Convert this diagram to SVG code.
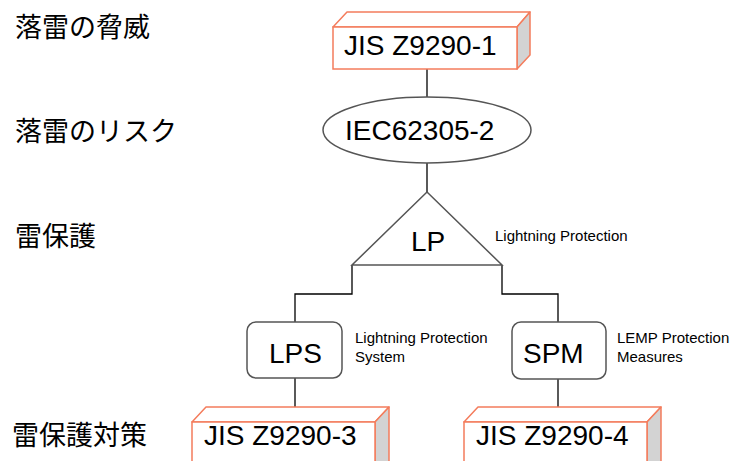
<svg xmlns="http://www.w3.org/2000/svg" width="737" height="461" viewBox="0 0 737 461">
<style>
  .cjk { font-family: "Noto Sans CJK JP", "Noto Sans", sans-serif; font-size: 27px; fill: #000; }
  .big { font-family: "Liberation Sans", Arial, sans-serif; font-size: 28px; fill: #000; }
  .small { font-family: "Liberation Sans", Arial, sans-serif; font-size: 15px; fill: #000; }
  .front { fill: #fff; stroke: #F47C5C; stroke-width: 1.5; }
  .top { fill: #fff; stroke: #F47C5C; stroke-width: 1.5; stroke-linejoin: round; }
  .side { fill: #D3D3D3; stroke: #F47C5C; stroke-width: 1.5; stroke-linejoin: round; }
  .shape { fill: #fff; stroke: #555; stroke-width: 1.5; }
  .conn { fill: none; stroke: #000; stroke-width: 1.3; }
</style>
<rect width="737" height="461" fill="#fff"/>

<g id="labels">
  <text class="cjk" x="15" y="37">落雷の脅威</text>
  <text class="cjk" x="15" y="141">落雷のリスク</text>
  <text class="cjk" x="15" y="246">雷保護</text>
  <text class="cjk" x="12" y="445">雷保護対策</text>
</g>

<g id="connectors">
  <line class="conn" x1="427" y1="69" x2="427" y2="97"/>
  <line class="conn" x1="427" y1="163" x2="427" y2="192"/>
  <polyline class="conn" points="352,265 352,294 295,294 295,322"/>
  <polyline class="conn" points="502,265 502,294 558,294 558,322"/>
  <line class="conn" x1="295" y1="378" x2="295" y2="407"/>
  <line class="conn" x1="558" y1="379" x2="558" y2="407"/>
</g>

<g id="jis1">
  <polygon class="top" points="333,27 347,12 530,12 517,27"/>
  <polygon class="side" points="517,27 530,12 530,55 517,69"/>
  <rect class="front" x="333" y="27" width="184" height="42"/>
  <text class="big" x="344" y="55">JIS Z9290-1</text>
</g>

<g id="iec">
  <ellipse class="shape" cx="427" cy="130" rx="104" ry="33"/>
  <text class="big" x="345" y="140">IEC62305-2</text>
</g>

<g id="lp">
  <polygon class="shape" points="427,192 502,265 352,265"/>
  <text class="big" x="411" y="251">LP</text>
  <text class="small" x="495" y="241">Lightning Protection</text>
</g>

<g id="lps">
  <rect class="shape" x="247" y="322" width="95" height="56" rx="9"/>
  <text class="big" x="269" y="363">LPS</text>
  <text class="small" x="355" y="343">Lightning Protection</text>
  <text class="small" x="355" y="362">System</text>
</g>

<g id="spm">
  <rect class="shape" x="512" y="322" width="94" height="57" rx="9"/>
  <text class="big" x="523" y="363">SPM</text>
  <text class="small" x="617" y="343">LEMP Protection</text>
  <text class="small" x="617" y="362">Measures</text>
</g>

<g id="jis3">
  <polygon class="top" points="192,422 206,407 389,407 375,422"/>
  <polygon class="side" points="375,422 389,407 389,470 375,470"/>
  <rect class="front" x="192" y="422" width="183" height="50"/>
  <text class="big" x="204" y="445">JIS Z9290-3</text>
</g>

<g id="jis4">
  <polygon class="top" points="464,422 478,407 661,407 647,422"/>
  <polygon class="side" points="647,422 661,407 661,470 647,470"/>
  <rect class="front" x="464" y="422" width="183" height="50"/>
  <text class="big" x="476" y="445">JIS Z9290-4</text>
</g>
</svg>
